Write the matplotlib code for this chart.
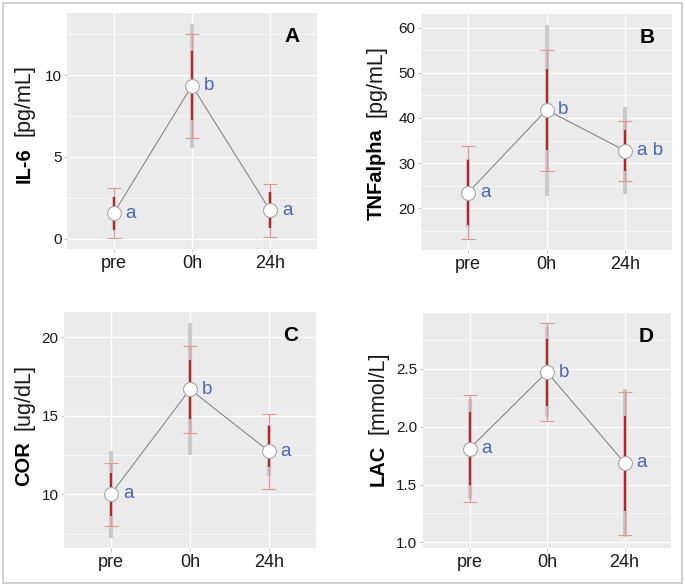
import matplotlib
matplotlib.use("Agg")
import matplotlib.pyplot as plt
from matplotlib.patches import Rectangle

plt.rcParams['font.family'] = ['Liberation Sans', 'DejaVu Sans']

# ---------------- data ----------------
categories = ['pre', '0h', '24h']

il6_mean     = [1.57, 9.36, 1.73]
il6_sd_lo    = [0.02, 6.18, 0.08]
il6_sd_hi    = [3.10, 12.52, 3.35]
il6_in_lo    = [0.55, 7.28, 0.65]
il6_in_hi    = [2.55, 11.46, 2.83]
il6_rng_lo   = [0.55, 5.55, 0.65]
il6_rng_hi   = [2.55, 13.15, 2.83]
il6_sig      = ['a', 'b', 'a']

tnf_mean     = [23.46, 41.77, 32.76]
tnf_sd_lo    = [13.13, 28.33, 26.10]
tnf_sd_hi    = [33.80, 55.06, 39.40]
tnf_in_lo    = [16.30, 32.80, 28.30]
tnf_in_hi    = [30.70, 50.80, 37.30]
tnf_rng_lo   = [15.90, 22.80, 23.20]
tnf_rng_hi   = [30.85, 60.60, 42.40]
tnf_sig      = ['a', 'b', 'a b']

cor_mean     = [10.04, 16.68, 12.75]
cor_sd_lo    = [8.01, 13.92, 10.36]
cor_sd_hi    = [12.02, 19.45, 15.10]
cor_in_lo    = [8.60, 14.81, 11.74]
cor_in_hi    = [11.38, 18.52, 14.34]
cor_rng_lo   = [7.25, 12.48, 11.14]
cor_rng_hi   = [12.75, 20.89, 14.39]
cor_sig      = ['a', 'b', 'a']

lac_mean     = [1.809, 2.471, 1.687]
lac_sd_lo    = [1.349, 2.046, 1.066]
lac_sd_hi    = [2.270, 2.891, 2.295]
lac_in_lo    = [1.500, 2.180, 1.268]
lac_in_hi    = [2.123, 2.756, 2.094]
lac_rng_lo   = [1.378, 2.083, 1.047]
lac_rng_hi   = [2.241, 2.860, 2.325]
lac_sig      = ['a', 'b', 'a']

panel_letters = ['A', 'B', 'C', 'D']
label_bold    = ['IL-6', 'TNFalpha', 'COR', 'LAC']
label_unit    = ['[pg/mL]', '[pg/mL]', '[ug/dL]', '[mmol/L]']

# ---------------- layout ----------------
W, H = 685, 585
# panel rectangles in pixels: (left, top, right, bottom)
panels_px = [(67, 13, 317, 249), (421, 14, 672, 250),
             (64, 312, 316, 548), (423, 313, 671, 548)]
ylims = [(-0.63, 13.80), (10.77, 63.0), (6.59, 21.59), (0.952, 2.981)]
major_ticks = [[0, 5, 10], [20, 30, 40, 50, 60], [10, 15, 20], [1.0, 1.5, 2.0, 2.5]]
minor_ticks = [[2.5, 7.5, 12.5], [15, 25, 35, 45, 55], [7.5, 12.5, 17.5],
               [1.25, 1.75, 2.25, 2.75]]
tick_fmt = ['{:.0f}', '{:.0f}', '{:.0f}', '{:.1f}']
# y-label: baseline x, unit-text start y (pixels from top-left)
ylab_px = [(29.5, 136), (381.7, 117), (29.5, 430), (383.3, 434)]
gap_px = 11

data = [
    (il6_mean, il6_sd_lo, il6_sd_hi, il6_in_lo, il6_in_hi, il6_rng_lo, il6_rng_hi, il6_sig),
    (tnf_mean, tnf_sd_lo, tnf_sd_hi, tnf_in_lo, tnf_in_hi, tnf_rng_lo, tnf_rng_hi, tnf_sig),
    (cor_mean, cor_sd_lo, cor_sd_hi, cor_in_lo, cor_in_hi, cor_rng_lo, cor_rng_hi, cor_sig),
    (lac_mean, lac_sd_lo, lac_sd_hi, lac_in_lo, lac_in_hi, lac_rng_lo, lac_rng_hi, lac_sig),
]

fig = plt.figure(figsize=(W / 100, H / 100), dpi=100)
fig.patch.set_facecolor('white')

xs = list(range(1, len(categories) + 1))

for i, (l, t, r, b) in enumerate(panels_px):
    ax = fig.add_axes([l / W, 1 - b / H, (r - l) / W, (b - t) / H])
    ax.set_facecolor('#EBEBEB')
    for s in ax.spines.values():
        s.set_visible(False)
    mean, sdlo, sdhi, inlo, inhi, rlo, rhi, sig = data[i]

    # range bars (light gray, thick)
    ax.vlines(xs, rlo, rhi, color='#cacaca', lw=3.0, zorder=2)
    # sd error bars with caps (light red)
    yerr = [[m - lo for m, lo in zip(mean, sdlo)], [hi - m for m, hi in zip(mean, sdhi)]]
    ax.errorbar(xs, mean, yerr=yerr, fmt='none', ecolor='#e39595', elinewidth=0.9,
                capsize=5.2, capthick=0.8, zorder=3)
    # inner interval (dark red)
    ax.vlines(xs, inlo, inhi, color='#b82525', lw=1.5, zorder=4)
    # connecting line
    ax.plot(xs, mean, color='#7a7a7a', lw=0.7, zorder=5)
    # points
    ax.plot(xs, mean, 'o', ms=10, mfc='white', mec='#a8a8a8', mew=0.8, zorder=6)
    # significance letters
    for x, m, s in zip(xs, mean, sig):
        ax.text(x + 0.15, m, s, color='#4a66b8', fontsize=13.5, ha='left', va='center', zorder=7)

    ax.set_xlim(0.4, 3.6)
    ax.set_ylim(*ylims[i])
    ax.set_xticks(xs)
    ax.set_xticklabels(categories)
    ax.set_yticks(major_ticks[i])
    ax.set_yticklabels([tick_fmt[i].format(v) for v in major_ticks[i]])
    ax.set_yticks(minor_ticks[i], minor=True)
    ax.grid(which='major', color='white', lw=0.9, zorder=0)
    ax.grid(which='minor', axis='y', color='white', lw=0.45, zorder=0)
    ax.set_axisbelow(True)
    ax.tick_params(which='minor', length=0)
    ax.tick_params(axis='y', which='major', length=2.0, width=0.6, color='#b5b5b5',
                   labelsize=11, labelcolor='#1a1a1a', pad=2)
    ax.tick_params(axis='x', which='major', length=2.0, width=0.6, color='#b5b5b5',
                   labelsize=13, labelcolor='#1a1a1a', pad=2.5)

    ax.text(0.90, 0.90, panel_letters[i], transform=ax.transAxes, ha='center', va='center',
            fontsize=15, fontweight='bold', color='black')

    bx, uy = ylab_px[i]
    fig.text(bx / W, 1 - uy / H, label_unit[i], rotation=90, rotation_mode='anchor',
             ha='left', va='baseline', fontsize=15.5, color='#1a1a1a')
    fig.text(bx / W, 1 - (uy + gap_px) / H, label_bold[i], rotation=90, rotation_mode='anchor',
             ha='right', va='baseline', fontsize=14.5, fontweight='bold', color='black')

fig.patches.append(Rectangle((3 / W, 2 / H), 679 / W, 580 / H, transform=fig.transFigure,
                             fill=False, edgecolor='#c8c8c8', lw=1.2))

fig.savefig('out.png', dpi=100)
